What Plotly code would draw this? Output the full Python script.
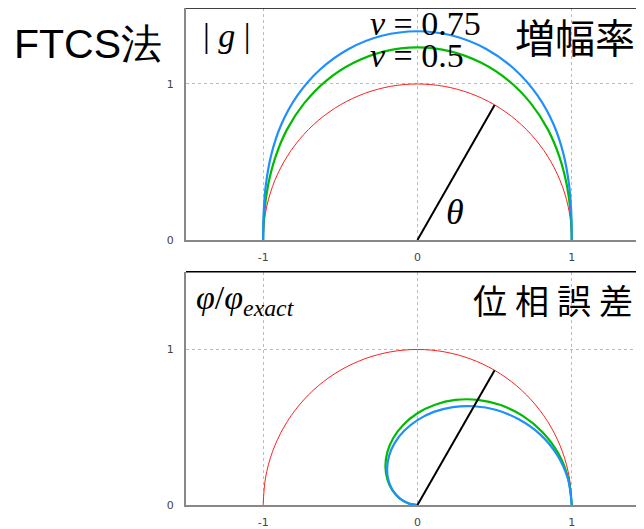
import numpy as np
import plotly.graph_objects as go
from plotly.subplots import make_subplots

# angle samples (deg) along each curve
theta_deg = [0, 10, 20, 30, 40, 50, 60, 70, 80, 90,
             100, 110, 120, 130, 140, 150, 160, 170, 180]

# amplification factor |g|
g_nu075 = [1.00, 1.012, 1.045, 1.094, 1.152, 1.210, 1.262, 1.303, 1.329, 1.338,
           1.329, 1.303, 1.262, 1.210, 1.152, 1.094, 1.045, 1.012, 1.00]
g_nu050 = [1.00, 1.008, 1.030, 1.063, 1.103, 1.143, 1.180, 1.209, 1.228, 1.234,
           1.228, 1.209, 1.180, 1.143, 1.103, 1.063, 1.030, 1.008, 1.00]

# phase ratio phi/phi_exact
p_nu075 = [1.00, 0.989, 0.959, 0.914, 0.857, 0.797, 0.733, 0.670, 0.608, 0.546,
           0.486, 0.427, 0.367, 0.306, 0.245, 0.183, 0.120, 0.058, 0.0]
p_nu050 = [1.00, 0.992, 0.971, 0.936, 0.891, 0.839, 0.781, 0.719, 0.655, 0.590,
           0.524, 0.458, 0.391, 0.323, 0.254, 0.187, 0.121, 0.058, 0.0]

unit = [1.0] * len(theta_deg)
ray_deg = [60, 60]
ray_r = [0.0, 1.0]

xticks = [-1, 0, 1]
yticks = [0, 1]

title_bottom = ["位", "相", "誤", "差"]

BLUE = "#1e8fff"
GREEN = "#00bb00"
RED = "#ff2020"
SERIF = "Liberation Serif, Times New Roman, serif"
SANS = "Liberation Sans, Arial, sans-serif"
CJK = "Noto Sans CJK JP, sans-serif"


def xy(deg, r):
    t = np.radians(deg)
    return np.asarray(r) * np.cos(t), np.asarray(r) * np.sin(t)


fig = make_subplots(rows=2, cols=1, vertical_spacing=0.064)

for row, (a, b) in ((1, (g_nu050, g_nu075)), (2, (p_nu050, p_nu075))):
    for r, c, w in ((unit, RED, 1.0), (a, GREEN, 2.2), (b, BLUE, 2.2)):
        x, y = xy(theta_deg, r)
        fig.add_trace(go.Scatter(x=x, y=y, mode="lines",
                                 line=dict(color=c, width=w, shape="spline"),
                                 showlegend=False, hoverinfo="skip"), row=row, col=1)
    x, y = xy(ray_deg, ray_r)
    fig.add_trace(go.Scatter(x=x, y=y, mode="lines", line=dict(color="black", width=2),
                             showlegend=False, hoverinfo="skip"), row=row, col=1)

axis_common = dict(showline=True, linecolor="#888888", linewidth=2, showgrid=True,
                   gridcolor="#bbbbbb", griddash="dot", gridwidth=1, zeroline=False,
                   ticks="", tickfont=dict(family="DejaVu Sans, sans-serif", size=11, color="#444444"))
fig.update_xaxes(range=[-1.5, 1.52], tickvals=xticks, ticktext=["-1", "0", "1"],
                 ticklabelstandoff=6, **axis_common)
fig.update_yaxes(tickvals=yticks, ticklabelstandoff=8, **axis_common)
fig.update_yaxes(domain=[0.5332, 1.0], range=[0, 1.487], row=1, col=1)
fig.update_yaxes(domain=[0.0, 0.4694], range=[0, 1.5], row=2, col=1)

for xr, yr in (("x domain", "y domain"), ("x2 domain", "y2 domain")):
    fig.add_shape(type="line", xref=xr, yref=yr, x0=0, x1=1, y0=1, y1=1,
                  line=dict(color="black", width=1.5))

ann = [
    dict(text="FTCS法", x=-0.373, y=0.928, xref="paper", yref="paper", font=dict(family=SANS, size=41)),
    dict(text="| <i>g</i> |", x=-1.40, y=1.31, xref="x", yref="y", font=dict(family=SERIF, size=34)),
    dict(text="<i>ν</i> = 0.75", x=-0.32, y=1.385, xref="x", yref="y", font=dict(family=SERIF, size=34)),
    dict(text="<i>ν</i> = 0.5", x=-0.32, y=1.18, xref="x", yref="y", font=dict(family=SERIF, size=34)),
    dict(text="増幅率", x=0.62, y=1.31, xref="x", yref="y", font=dict(family=CJK, size=40)),
    dict(text="<i>θ</i>", x=0.17, y=0.18, xref="x", yref="y", font=dict(family=SERIF, size=36)),
    dict(text="<i>φ</i>/<i>φ</i><sub><i>exact</i></sub>", x=-1.45, y=1.32, xref="x2", yref="y2",
         font=dict(family=SERIF, size=34)),
]
for a in ann:
    fig.add_annotation(showarrow=False, xanchor="left", yanchor="middle", font_color="black", **a)

# bottom heading: wide letter pitch, one glyph per annotation
for i, ch in enumerate(title_bottom):
    fig.add_annotation(text=ch, x=0.469 + 0.272 * i, y=1.32, xref="x2", yref="y2",
                       showarrow=False, xanchor="center", yanchor="middle",
                       font=dict(family=CJK, size=34, color="black"))

fig.update_layout(width=644, height=529, margin=dict(l=178, r=0, t=0, b=32),
                  plot_bgcolor="white", paper_bgcolor="white")

fig.write_html("out.html")
